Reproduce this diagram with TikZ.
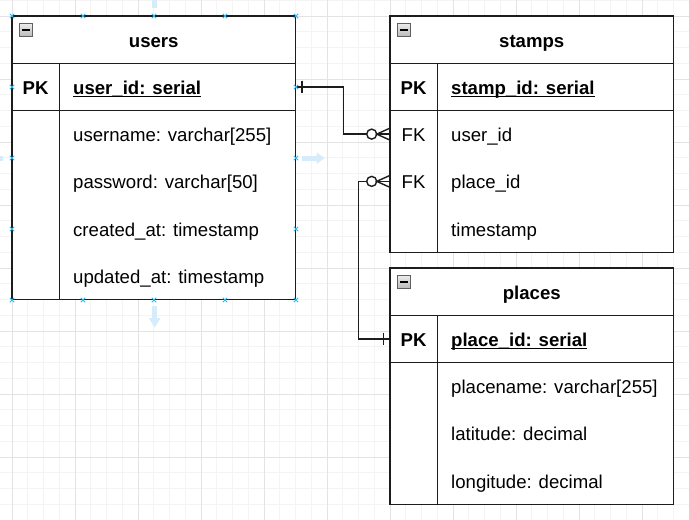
\documentclass[tikz,border=0pt]{standalone}
\usepackage{fontspec}
\setmainfont{Liberation Sans}
\usetikzlibrary{calc}
\definecolor{gridminor}{RGB}{244,244,244}
\definecolor{gridmajor}{RGB}{227,227,227}
\definecolor{handle}{RGB}{41,182,242}
\definecolor{hint}{RGB}{214,236,250}
\definecolor{ink}{RGB}{28,28,28}
\newcommand\pkul[1]{\setbox0\hbox{#1}\rlap{\rule[-3pt]{\wd0}{1.1pt}}\box0}
\begin{document}
\begin{tikzpicture}[x=1pt,y=-1pt,
  tbl/.style={draw=ink, line width=1.5pt},
  rowbox/.style={minimum width=283.5pt, minimum height=47.25pt, inner sep=0pt, outer sep=0pt, anchor=north west},
  ttl/.style={font=\fontsize{18.6}{22}\selectfont\bfseries, anchor=base, inner sep=0pt},
  fld/.style={font=\fontsize{18.6}{22}\selectfont, anchor=base west, inner sep=0pt},
  keytxt/.style={font=\fontsize{18.6}{22}\selectfont\bfseries, anchor=base, inner sep=0pt},
  conn/.style={draw=ink, line width=1.4pt},
  icon/.style={draw=gray!75!black, line width=0.8pt, top color=gray!15, bottom color=gray!55},
  hnd/.style={draw=handle, line width=1pt},
  hintarrow/.style={fill=hint, draw=none}]
\useasboundingbox (0,0) rectangle (689,520);
\begin{scope}
\clip (0,0) rectangle (689,520);
\fill[white] (0,0) rectangle (689,520);
% grid
\foreach \i in {0,...,44} \draw[gridminor, line width=0.8pt] ({12+15.75*(\i-1)},0) -- ({12+15.75*(\i-1)},520);
\foreach \i in {0,...,34} \draw[gridminor, line width=0.8pt] (0,{16+15.75*(\i-1)}) -- (689,{16+15.75*(\i-1)});
\foreach \i in {0,...,11} \draw[gridmajor, line width=0.8pt] ({12+63*\i},0) -- ({12+63*\i},520);
\foreach \i in {0,...,8} \draw[gridmajor, line width=0.8pt] (0,{16+63*\i}) -- (689,{16+63*\i});
% hint arrows around the selected table
\fill[hintarrow] (302,155.8) rectangle (316.5,160.6);
\fill[hintarrow] (316.5,152.3) -- (324.5,158.2) -- (316.5,164.1) -- cycle;
\fill[hintarrow] (152.3,306) rectangle (157.1,318);
\fill[hintarrow] (148.8,318) -- (154.7,327.5) -- (160.6,318) -- cycle;
\fill[hintarrow] (152.3,7.5) rectangle (157.1,-6);
\fill[hintarrow] (3.3,155.8) rectangle (-10,160.6);
\end{scope}

% ---------- users ----------
\node[rowbox] (users) at (12,16) {};
\node[rowbox] (userspk) at (12,63.25) {};
\node[rowbox] (users1) at (12,110.5) {};
\node[rowbox] (users2) at (12,157.75) {};
\node[rowbox] (users3) at (12,205) {};
\node[rowbox] (users4) at (12,252.25) {};
\fill[white] (users.north west) rectangle (users4.south east);
\draw[tbl] (users.north west) rectangle (users4.south east);
\draw[tbl] (users.south west) -- (users.south east);
\draw[tbl] (userspk.south west) -- (userspk.south east);
\draw[tbl] ($(userspk.north west)+(47.25,0)$) -- ($(users4.south west)+(47.25,0)$);
\draw[icon] ($(users.north west)+(7.5,7.5)$) rectangle ++(13,13);
\draw[black, line width=1.6pt] ($(users.north west)+(10.3,14)$) -- ++(7.4,0);
\node[ttl] (userst) at ($(users.center)+(0,7.5)$) {users};
\node[keytxt] (userspkk) at ($(userspk.west)+(23.6,7.5)$) {PK};
\node[fld] (userspkf) at ($(userspk.west)+(61,7.5)$) {\bfseries\pkul{user\_id: serial}};
\node[fld] (users1f) at ($(users1.west)+(61,7.5)$) {username: varchar[255]};
\node[fld] (users2f) at ($(users2.west)+(61,7.5)$) {password: varchar[50]};
\node[fld] (users3f) at ($(users3.west)+(61,7.5)$) {created\_at: timestamp};
\node[fld] (users4f) at ($(users4.west)+(61,7.5)$) {updated\_at: timestamp};

% ---------- stamps ----------
\node[rowbox] (stamps) at (390,16) {};
\node[rowbox] (stampspk) at (390,63.25) {};
\node[rowbox] (stamps1) at (390,110.5) {};
\node[rowbox] (stamps2) at (390,157.75) {};
\node[rowbox] (stamps3) at (390,205) {};
\fill[white] (stamps.north west) rectangle (stamps3.south east);
\draw[tbl] (stamps.north west) rectangle (stamps3.south east);
\draw[tbl] (stamps.south west) -- (stamps.south east);
\draw[tbl] (stampspk.south west) -- (stampspk.south east);
\draw[tbl] ($(stampspk.north west)+(47.25,0)$) -- ($(stamps3.south west)+(47.25,0)$);
\draw[icon] ($(stamps.north west)+(7.5,7.5)$) rectangle ++(13,13);
\draw[black, line width=1.6pt] ($(stamps.north west)+(10.3,14)$) -- ++(7.4,0);
\node[ttl] (stampst) at ($(stamps.center)+(0,7.5)$) {stamps};
\node[keytxt] (stampspkk) at ($(stampspk.west)+(23.6,7.5)$) {PK};
\node[fld] (stampspkf) at ($(stampspk.west)+(61,7.5)$) {\bfseries\pkul{stamp\_id: serial}};
\node[keytxt] (stamps1k) at ($(stamps1.west)+(23.6,7.5)$) {\mdseries FK};
\node[fld] (stamps1f) at ($(stamps1.west)+(61,7.5)$) {user\_id};
\node[keytxt] (stamps2k) at ($(stamps2.west)+(23.6,7.5)$) {\mdseries FK};
\node[fld] (stamps2f) at ($(stamps2.west)+(61,7.5)$) {place\_id};
\node[fld] (stamps3f) at ($(stamps3.west)+(61,7.5)$) {timestamp};

% ---------- places ----------
\node[rowbox] (places) at (390,268) {};
\node[rowbox] (placespk) at (390,315.25) {};
\node[rowbox] (places1) at (390,362.5) {};
\node[rowbox] (places2) at (390,409.75) {};
\node[rowbox] (places3) at (390,457) {};
\fill[white] (places.north west) rectangle (places3.south east);
\draw[tbl] (places.north west) rectangle (places3.south east);
\draw[tbl] (places.south west) -- (places.south east);
\draw[tbl] (placespk.south west) -- (placespk.south east);
\draw[tbl] ($(placespk.north west)+(47.25,0)$) -- ($(places3.south west)+(47.25,0)$);
\draw[icon] ($(places.north west)+(7.5,7.5)$) rectangle ++(13,13);
\draw[black, line width=1.6pt] ($(places.north west)+(10.3,14)$) -- ++(7.4,0);
\node[ttl] (placest) at ($(places.center)+(0,7.5)$) {places};
\node[keytxt] (placespkk) at ($(placespk.west)+(23.6,7.5)$) {PK};
\node[fld] (placespkf) at ($(placespk.west)+(61,7.5)$) {\bfseries\pkul{place\_id: serial}};
\node[fld] (places1f) at ($(places1.west)+(61,7.5)$) {placename: varchar[255]};
\node[fld] (places2f) at ($(places2.west)+(61,7.5)$) {latitude: decimal};
\node[fld] (places3f) at ($(places3.west)+(61,7.5)$) {longitude: decimal};

% ---------- connectors ----------
% users.user_id  -|----o<  stamps.user_id
\draw[conn] (userspk.east) -- ($(userspk.east)+(47.8,0)$) |- ($(stamps1.west)+(-23.3,0)$);
\draw[conn] ($(userspk.east)+(6.3,-6.3)$) -- ($(userspk.east)+(6.3,6.3)$);
\draw[conn, fill=white] ($(stamps1.west)+(-18.3,0)$) circle (5);
\draw[conn] ($(stamps1.west)+(-13.3,0)$) -- (stamps1.west);
\draw[conn] ($(stamps1.west)+(0,-6)$) -- ($(stamps1.west)+(-13.3,0)$) -- ($(stamps1.west)+(0,6)$);
% stamps.place_id  o<----|-  places.place_id
\draw[conn] ($(stamps2.west)+(-23.3,0)$) -- ($(stamps2.west)+(-31.6,0)$) |- (placespk.west);
\draw[conn] ($(placespk.west)+(-6.7,-6.3)$) -- ($(placespk.west)+(-6.7,6.3)$);
\draw[conn, fill=white] ($(stamps2.west)+(-18.3,0)$) circle (5);
\draw[conn] ($(stamps2.west)+(-13.3,0)$) -- (stamps2.west);
\draw[conn] ($(stamps2.west)+(0,-6)$) -- ($(stamps2.west)+(-13.3,0)$) -- ($(stamps2.west)+(0,6)$);

% ---------- selection handles ----------
\foreach \hx/\hy in {12/16,83/16,154/16,225/16,296/16,12/300,83/300,154/300,225/300,296/300,12/87,12/158,12/229,296/87,296/158,296/229}
  \draw[hnd] (\hx-2.2,\hy-2.2) -- (\hx+2.2,\hy+2.2) (\hx-2.2,\hy+2.2) -- (\hx+2.2,\hy-2.2);
\end{tikzpicture}
\end{document}
